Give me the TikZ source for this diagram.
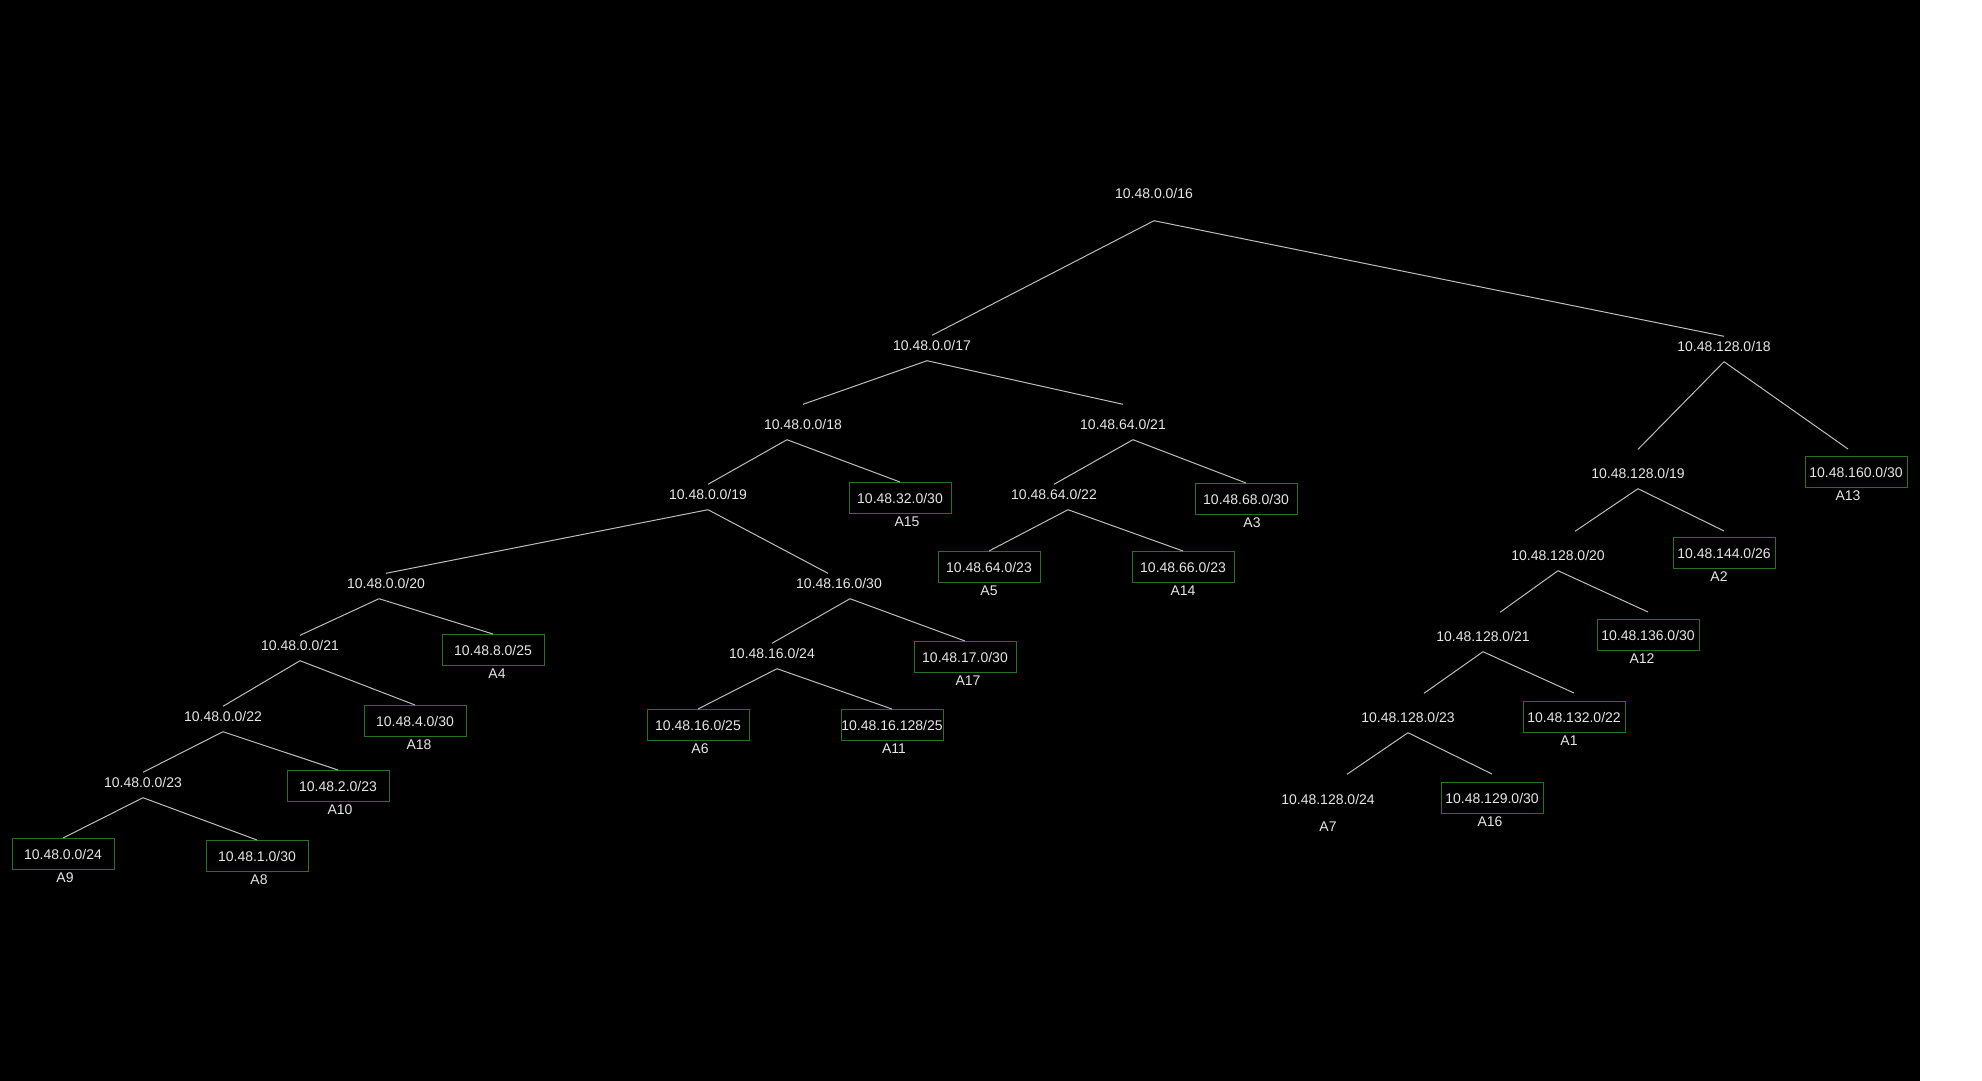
\documentclass[tikz,border=0pt]{standalone}
\usepackage{fontspec}
\setmainfont{Liberation Sans}
\usepackage{tikz}
\usetikzlibrary{positioning}
\definecolor{txt}{HTML}{E6E6E6}
\definecolor{wire}{HTML}{BDBDBD}
\definecolor{leafgreen}{HTML}{2A702A}
\tikzset{every node/.style={text=txt,font=\fontsize{14}{16}\selectfont},
  every edge/.style={draw=wire,line width=1pt},
  net/.style={inner xsep=2pt,inner ysep=5pt,text height=10pt,text depth=5pt},
  leaf/.style={draw=leafgreen,line width=1pt,minimum width=102pt,minimum height=31pt,inner sep=0pt},
  tag/.style={inner sep=1pt}}

\begin{document}
\begin{tikzpicture}[x=1pt,y=-1pt]
    \useasboundingbox (0,0) rectangle (1982,1080);
    \fill[black] (-2,-2) rectangle (1920,1083);
    \fill[white] (1920,-2) rectangle (1984,1083);

    \node[net] (n16) at (1154,196) {10.48.0.0/16};
    \node[net] (n17) at (932,348) {10.48.0.0/17};
    \node[net] (n18r) at (1724,349) {10.48.128.0/18};
    \node[net] (n18) at (803,427) {10.48.0.0/18};
    \node[net] (n21m) at (1123,427) {10.48.64.0/21};
    \node[net] (n19) at (708,497) {10.48.0.0/19};
    \node[net] (n22m) at (1054,497) {10.48.64.0/22};
    \node[net] (n20) at (386,586) {10.48.0.0/20};
    \node[net] (n30m) at (839,586) {10.48.16.0/30};
    \node[net] (n21) at (300,648) {10.48.0.0/21};
    \node[net] (n24m) at (772,656) {10.48.16.0/24};
    \node[net] (n22) at (223,719) {10.48.0.0/22};
    \node[net] (n23) at (143,785) {10.48.0.0/23};
    \node[net] (n19r) at (1638,476) {10.48.128.0/19};
    \node[net] (n20r) at (1558,558) {10.48.128.0/20};
    \node[net] (n21r) at (1483,639) {10.48.128.0/21};
    \node[net] (n23r) at (1408,720) {10.48.128.0/23};
    \node[net] (n24r) at (1328,802) {10.48.128.0/24};

    \node[leaf] (b32) at (900,498) {10.48.32.0/30};
    \node[leaf] (b68) at (1246,499) {10.48.68.0/30};
    \node[leaf] (b64) at (989,567) {10.48.64.0/23};
    \node[leaf] (b66) at (1183,567) {10.48.66.0/23};
    \node[leaf] (b8) at (493,650) {10.48.8.0/25};
    \node[leaf] (b17) at (965,657) {10.48.17.0/30};
    \node[leaf] (b4) at (415,721) {10.48.4.0/30};
    \node[leaf] (b16) at (698,725) {10.48.16.0/25};
    \node[leaf] (b16h) at (892,725) {10.48.16.128/25};
    \node[leaf] (b2) at (338,786) {10.48.2.0/23};
    \node[leaf] (b0) at (63,854) {10.48.0.0/24};
    \node[leaf] (b1) at (257,856) {10.48.1.0/30};
    \node[leaf] (b160) at (1856,472) {10.48.160.0/30};
    \node[leaf] (b144) at (1724,553) {10.48.144.0/26};
    \node[leaf] (b136) at (1648,635) {10.48.136.0/30};
    \node[leaf] (b132) at (1574,717) {10.48.132.0/22};
    \node[leaf] (b129) at (1492,798) {10.48.129.0/30};

    \node[tag,below=2pt of b32,xshift=7pt] (t15) {A15};
    \node[tag,below=2pt of b68,xshift=6pt] (t3) {A3};
    \node[tag,below=2pt of b64] (t5) {A5};
    \node[tag,below=2pt of b66] (t14) {A14};
    \node[tag,below=2pt of b8,xshift=4pt] (t4) {A4};
    \node[tag,below=2pt of b17,xshift=3pt] (t17) {A17};
    \node[tag,below=2pt of b4,xshift=4pt] (t18) {A18};
    \node[tag,below=2pt of b16,xshift=2pt] (t6) {A6};
    \node[tag,below=2pt of b16h,xshift=2pt] (t11) {A11};
    \node[tag,below=2pt of b2,xshift=2pt] (t10) {A10};
    \node[tag,below=2pt of b0,xshift=2pt] (t9) {A9};
    \node[tag,below=2pt of b1,xshift=2pt] (t8) {A8};
    \node[tag,below=2pt of b160,xshift=-8pt] (t13) {A13};
    \node[tag,below=2pt of b144,xshift=-5pt] (t2) {A2};
    \node[tag,below=2pt of b136,xshift=-6pt] (t12) {A12};
    \node[tag,below=2pt of b132,xshift=-5pt] (t1) {A1};
    \node[tag,below=2pt of b129,xshift=-2pt] (t16) {A16};
    \node[tag,below=6pt of n24r] (t7) {A7};

    \path
    ([yshift=-12pt]n16.south) edge (n17.north)
    ([yshift=-12pt]n16.south) edge (n18r.north)
    ([xshift=-5pt]n17.south) edge ([yshift=10pt]n18.north)
    ([xshift=-5pt]n17.south) edge ([yshift=10pt]n21m.north)
    ([xshift=-16pt]n18.south) edge (n19.north)
    ([xshift=-16pt]n18.south) edge (b32.north)
    ([xshift=10pt]n21m.south) edge (n22m.north)
    ([xshift=10pt]n21m.south) edge (b68.north)
    ([xshift=14pt]n22m.south) edge (b64.north)
    ([xshift=14pt]n22m.south) edge (b66.north)
    (n19.south) edge (n20.north)
    (n19.south) edge ([xshift=-11pt]n30m.north)
    ([xshift=-7pt]n20.south) edge (n21.north)
    ([xshift=-7pt]n20.south) edge (b8.north)
    ([xshift=11pt]n30m.south) edge (n24m.north)
    ([xshift=11pt]n30m.south) edge (b17.north)
    (n21.south) edge (n22.north)
    (n21.south) edge (b4.north)
    ([xshift=5pt]n24m.south) edge (b16.north)
    ([xshift=5pt]n24m.south) edge (b16h.north)
    (n22.south) edge (n23.north)
    (n22.south) edge (b2.north)
    (n23.south) edge (b0.north)
    (n23.south) edge (b1.north)
    (n18r.south) edge ([yshift=14pt]n19r.north)
    (n18r.south) edge ([xshift=-8pt,yshift=7pt]b160.north)
    (n19r.south) edge ([xshift=17pt,yshift=14pt]n20r.north)
    (n19r.south) edge ([yshift=6pt]b144.north)
    (n20r.south) edge ([xshift=17pt,yshift=14pt]n21r.north)
    (n20r.south) edge ([yshift=7pt]b136.north)
    (n21r.south) edge ([xshift=16pt,yshift=14pt]n23r.north)
    (n21r.south) edge ([yshift=8pt]b132.north)
    (n23r.south) edge ([xshift=19pt,yshift=15pt]n24r.north)
    (n23r.south) edge ([yshift=8pt]b129.north)
    ;
\end{tikzpicture}
\end{document}
